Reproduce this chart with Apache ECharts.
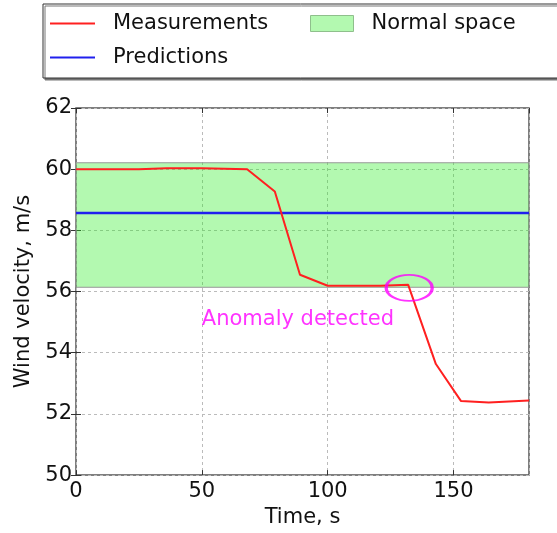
<!DOCTYPE html>
<html>
<head>
<meta http-equiv="Content-Type" content="text/html; charset=UTF-8">
<title>Wind velocity</title>
<script src="https://cdn.jsdelivr.net/npm/echarts@6/dist/echarts.min.js"></script>
</head>
<body style="margin:0">
<div id="chart" style="width: 557px; height: 533px;"></div>
<script type="text/javascript">
    // values
    var measTime = [0, 10, 25, 36, 50, 68, 79, 89, 100, 111, 121, 132, 143, 153, 164, 180];
    var measValue = [60.0, 60.0, 60.0, 60.03, 60.03, 60.0, 59.27, 56.55, 56.19, 56.19, 56.19, 56.22, 53.63, 52.42, 52.37, 52.44];
    var predTime = [0, 180];
    var predValue = [58.57, 58.57];
    var normalBand = [56.14, 60.21];
    var anomalyPoint = [132.4, 56.12];
    var anomalyText = 'Anomaly detected';
    var textPoint = [50, 55.07];

    var font = 'DejaVu Sans';
    var toPairs = function (xs, ys) {
        return xs.map(function (x, i) { return [x, ys[i]]; });
    };

    var myChart = echarts.init(document.getElementById('chart'));
    myChart.setOption({
        animation: false,
        textStyle: { fontFamily: font },
        graphic: [{
            type: 'rect',
            z: 1,
            shape: { x: 43, y: 4, width: 540, height: 74 },
            style: {
                fill: '#fff', stroke: '#333', lineWidth: 1,
                shadowColor: '#777', shadowOffsetX: 2, shadowOffsetY: 2, shadowBlur: 0
            }
        }],
        legend: [{
            z: 10,
            orient: 'vertical',
            left: 50,
            top: 13,
            padding: 0,
            itemWidth: 45,
            itemHeight: 2,
            itemGap: 13,
            icon: 'rect',
            data: ['Measurements', 'Predictions'],
            textStyle: { fontSize: 21, lineHeight: 21, color: '#111', padding: [0, 0, 0, 13], fontFamily: font }
        }, {
            z: 10,
            left: 310,
            top: 13,
            padding: 0,
            itemWidth: 43,
            itemHeight: 16,
            data: [{
                name: 'Normal space',
                icon: 'rect',
                itemStyle: { color: '#b3f9b0', borderColor: '#8fbf8c', borderWidth: 1 }
            }],
            textStyle: { fontSize: 21, lineHeight: 21, color: '#111', padding: [0, 0, 0, 13], fontFamily: font }
        }],
        grid: {
            left: 76, right: 28, top: 108, bottom: 55,
            show: true, borderColor: '#555', borderWidth: 1.5, backgroundColor: 'transparent'
        },
        xAxis: [{
            type: 'value', min: 0, max: 180, interval: 50,
            name: 'Time, s', nameLocation: 'middle', nameGap: 31,
            nameTextStyle: { fontSize: 21, color: '#111', fontFamily: font },
            axisLine: { show: false },
            axisTick: { inside: true, length: 5, lineStyle: { color: '#333' } },
            axisLabel: { fontSize: 21, color: '#111', margin: 6, showMaxLabel: false, fontFamily: font },
            splitLine: { lineStyle: { color: '#bbb', type: [3, 3] } }
        }, {
            type: 'value', min: 0, max: 180, interval: 50, position: 'top',
            axisLine: { show: false },
            axisTick: { inside: true, length: 5, lineStyle: { color: '#333' } },
            axisLabel: { show: false },
            splitLine: { show: false }
        }],
        yAxis: [{
            type: 'value', min: 50, max: 62, interval: 2,
            name: 'Wind velocity, m/s', nameLocation: 'middle', nameGap: 39,
            nameTextStyle: { fontSize: 21, color: '#111', fontFamily: font },
            axisLine: { show: false },
            axisTick: { inside: true, length: 5, lineStyle: { color: '#333' } },
            axisLabel: { fontSize: 21, color: '#111', margin: 4, fontFamily: font },
            splitLine: { lineStyle: { color: '#bbb', type: [3, 3] } }
        }, {
            type: 'value', min: 50, max: 62, interval: 2, position: 'right',
            axisLine: { show: false },
            axisTick: { inside: true, length: 5, lineStyle: { color: '#333' } },
            axisLabel: { show: false },
            splitLine: { show: false }
        }],
        series: [{
            name: 'Normal space',
            type: 'line',
            data: [],
            markArea: {
                silent: true,
                itemStyle: { color: 'rgba(38,238,29,0.35)', borderColor: '#999', borderWidth: 1 },
                data: [[{ yAxis: normalBand[0] }, { yAxis: normalBand[1] }]]
            }
        }, {
            name: 'Measurements',
            type: 'line',
            symbol: 'none',
            z: 4,
            lineStyle: { color: '#ff2020', width: 2 },
            itemStyle: { color: '#ff2020' },
            data: toPairs(measTime, measValue)
        }, {
            name: 'Predictions',
            type: 'line',
            symbol: 'none',
            z: 3,
            lineStyle: { color: '#2020ee', width: 2.5 },
            itemStyle: { color: '#2020ee' },
            data: toPairs(predTime, predValue)
        }, {
            name: 'anomaly',
            type: 'scatter',
            z: 5,
            symbol: 'circle',
            symbolSize: [46, 26],
            itemStyle: { color: 'transparent', borderColor: '#ff00ff', borderWidth: 2.5 },
            data: [anomalyPoint]
        }, {
            name: 'note',
            type: 'scatter',
            z: 5,
            symbolSize: 0,
            label: {
                show: true, position: 'right', distance: 0,
                formatter: anomalyText,
                fontSize: 21, color: '#ff00ff', fontFamily: font
            },
            data: [textPoint]
        }]
    });
</script>
</body>
</html>
